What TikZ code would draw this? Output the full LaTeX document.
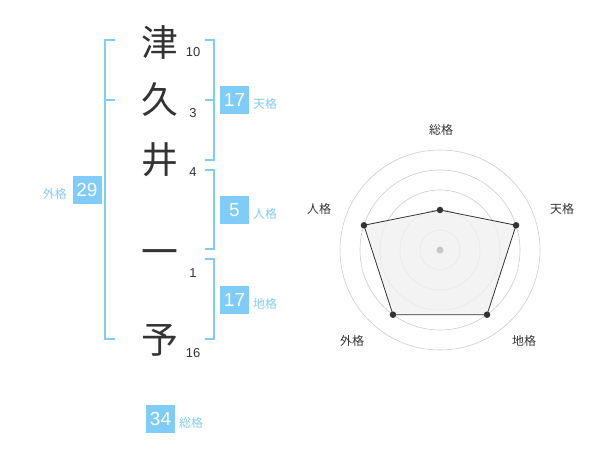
\documentclass[tikz,border=0pt]{standalone}
\usepackage{fontspec}
\usepackage{xcolor}
\setmainfont{Liberation Sans}
\newfontfamily\jpfont{Noto Sans CJK JP}
\definecolor{kakublue}{HTML}{80CCF8}
\definecolor{inkgray}{HTML}{333333}

\begin{document}
\begin{tikzpicture}[x=1bp,y=-1bp]
\tikzstyle{every node}+=[inner sep=0pt]
\tikzstyle{kanji}=[font=\jpfont\fontsize{37}{37}\selectfont, text=inkgray]
\tikzstyle{strokes}=[font=\fontsize{13}{13}\selectfont, text=inkgray]
\tikzstyle{kakubox}=[fill=kakublue, minimum width=29bp, minimum height=28bp, text=white, font=\fontsize{19}{19}\selectfont]
\tikzstyle{kakulabel}=[text=kakublue, font=\jpfont\fontsize{12}{12}\selectfont]
\tikzstyle{bracket}=[draw=kakublue, line width=1.5bp]
\tikzstyle{ring}=[draw=black!20, line width=0.6bp]
\tikzstyle{axislabel}=[font=\jpfont\fontsize{12}{12}\selectfont, text=inkgray]
\tikzstyle{vertex}=[circle, fill=inkgray, minimum size=6.5bp]
\useasboundingbox (0,0) rectangle (600,470);
% name
\node [kanji] (tsu) at (160,42) {津};
\node [kanji] (ku) at (160,100) {久};
\node [kanji] (i) at (160,160) {井};
\node [kanji] (ichi) at (160,258) {一};
\node [kanji] (yo) at (160,340) {予};
\node [strokes] (ntsu) at (193,52) {10};
\node [strokes] (nku) at (193,113) {3};
\node [strokes] (ni) at (193,172) {4};
\node [strokes] (nichi) at (193,273) {1};
\node [strokes] (nyo) at (193,353) {16};
% brackets
\draw [bracket] (115,40) -- (105,40) -- (105,339) -- (115,339);
\draw [bracket] (105,100) -- (115,100);
\draw [bracket] (205,40) -- (214,40) -- (214,160) -- (205,160);
\draw [bracket] (205,100) -- (214,100);
\draw [bracket] (205,170) -- (214,170) -- (214,249) -- (205,249);
\draw [bracket] (205,259) -- (214,259) -- (214,339) -- (205,339);
% kaku
\node [kakubox] (ten) at (234.5,100) {17};
\node [kakulabel, anchor=west] (tenl) at (253,104) {天格};
\node [kakubox] (jin) at (234.5,210) {5};
\node [kakulabel, anchor=west] (jinl) at (253,214) {人格};
\node [kakubox] (chi) at (234.5,300) {17};
\node [kakulabel, anchor=west] (chil) at (253,304) {地格};
\node [kakubox] (gai) at (87,190) {29};
\node [kakulabel, anchor=east] (gail) at (67,194) {外格};
\node [kakubox] (sou) at (160.5,419) {34};
\node [kakulabel, anchor=west] (soul) at (179,423) {総格};
% chart
\coordinate (chartc) at (440,250);
\draw [ring] (chartc) circle (20);
\draw [ring] (chartc) circle (40);
\draw [ring] (chartc) circle (60);
\draw [ring] (chartc) circle (80);
\draw [ring] (chartc) circle (100);
\path (chartc) ++(-90:40) coordinate (psou);
\path (chartc) ++(-18:80) coordinate (pten);
\path (chartc) ++(54:80) coordinate (pchi);
\path (chartc) ++(126:80) coordinate (pgai);
\path (chartc) ++(198:80) coordinate (pjin);
\filldraw [fill=black!6, draw=inkgray, line width=0.8bp, fill opacity=0.8] (psou) -- (pten) -- (pchi) -- (pgai) -- (pjin) -- cycle;
\fill [black!22] (chartc) circle (3.5);
\node [vertex] at (psou) {};
\node [vertex] at (pten) {};
\node [vertex] at (pchi) {};
\node [vertex] at (pgai) {};
\node [vertex] at (pjin) {};
\node [axislabel] (lsou) at (441,130) {総格};
\node [axislabel] (lten) at (562,209) {天格};
\node [axislabel] (lchi) at (524,341) {地格};
\node [axislabel] (lgai) at (352,341) {外格};
\node [axislabel] (ljin) at (319,209) {人格};
\end{tikzpicture}
\end{document}
